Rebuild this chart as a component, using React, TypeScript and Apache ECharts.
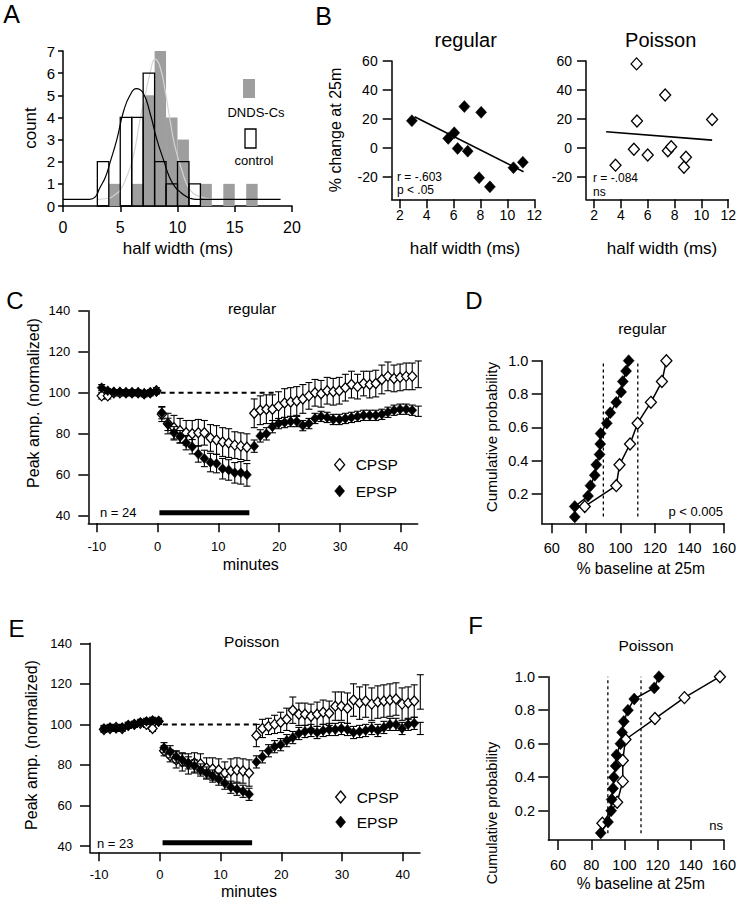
import React, { useEffect, useRef } from "react";
import * as echarts from "echarts";

const FONT = "'Liberation Sans', Arial, Helvetica, sans-serif";

// ---------- Panel A : half-width histograms ----------
const binWidth = 1;
const dndsBinLeft = [4, 6, 7, 8, 9, 10, 12, 14, 16];
const dndsCounts = [1, 1, 5, 7, 4, 3, 1, 1, 1];
const controlBinLeft = [3, 5, 6, 7, 8, 9, 10, 11];
const controlCounts = [2, 4, 4, 6, 2, 1, 2, 1];
const controlFitX = [0, 2.3, 2.8, 3.2, 3.7, 4.1, 4.7, 5.3, 5.85, 6.4, 7.0, 7.6, 8.2, 8.8, 9.3, 9.8, 10.2, 10.7, 11.1, 11.6, 19];
const controlFitY = [0.3, 0.3, 0.4, 0.8, 1.3, 1.95, 3.0, 4.3, 5.0, 5.3, 5.1, 4.2, 3.0, 2.05, 1.3, 0.85, 0.65, 0.45, 0.35, 0.3, 0.3];
const dndsFitX = [3, 4, 4.5, 5, 5.56, 6.14, 6.72, 7.16, 7.6, 8.04, 8.47, 8.91, 9.35, 9.78, 10.37, 11.1, 12, 13];
const dndsFitY = [0.3, 0.35, 0.5, 0.72, 1.32, 2.23, 3.88, 4.94, 6.0, 6.63, 6.29, 5.24, 3.88, 2.68, 1.63, 0.72, 0.42, 0.32];

// ---------- Panel B : % change at 25m vs half width ----------
const bRegX = [2.9, 5.6, 6.05, 6.3, 6.8, 7.05, 8.05, 7.9, 8.7, 10.45, 11.15];
const bRegY = [18.7, 6.5, 10.4, -0.5, 28.5, -2.3, 24.5, -20.7, -27, -13.8, -10];
const bRegFitX = [3.1, 11.2];
const bRegFitY = [21.5, -16.6];
const bPoiX = [3.6, 4.97, 5.17, 5.2, 6.0, 7.3, 7.5, 7.75, 8.85, 8.7, 10.8];
const bPoiY = [-12, -1, 58, 18.5, -5, 36.5, -2, 0.7, -6.5, -13.5, 19.6];
const bPoiFitX = [2.9, 10.8];
const bPoiFitY = [11.1, 5.3];

// ---------- Panels C & E : time courses ----------
const minutes = [
  -9.2, -8.2, -7.2, -6.2, -5.2, -4.2, -3.2, -2.2, -1.2, -0.2,
  0.7, 1.7, 2.7, 3.7, 4.7, 5.7, 6.7, 7.7, 8.7, 9.7, 10.7, 11.7, 12.7, 13.7, 14.7,
  15.9, 16.9, 17.9, 18.9, 19.9, 20.9, 21.9, 22.9, 23.9, 24.9, 25.9, 26.9, 27.9, 28.9,
  29.9, 30.9, 31.9, 32.9, 33.9, 34.9, 35.9, 36.9, 37.9, 38.9, 39.9, 40.9, 41.9, 42.9,
];
const cEpsp = [
  102.5, 101, 100.5, 100.5, 100, 100, 100, 99.5, 100, 100.5,
  90.3, 84.6, 80.5, 78.6, 75.7, 73.7, 70.2, 68, 66, 65.5, 63, 62.4, 61, 61, 60,
  74, 79, 80, 83.5, 85, 85.5, 86, 86, 84, 85, 87.5, 88.5, 88, 87, 87, 87.5, 88, 88.5, 89, 89, 89, 89.5, 90.5, 91.5, 92, 92, 91.5, 91,
];
const cEpspErr = [
  1.5, 1, 1, 1, 1, 1, 1, 1, 1, 1,
  3, 3, 3, 3, 3.5, 3.5, 4, 4, 4.5, 4.5, 5, 5, 5, 5.5, 5.5,
  3, 3, 3, 3, 2.5, 2.5, 2.5, 2.5, 2.5, 2.5, 2.5, 2.5, 2.5, 2.5, 2.5, 2.5, 2.5, 2.5, 2.5, 2.5, 2.5, 2.5, 2.5, 2.5, 2.5, 2.5, 2.5, 2.5,
];
const cCpsp = [
  98.5, 98.5, 100, 100, 100, 100, 100, 99.5, 100, 101,
  89.5, 85, 83, 81.5, 80.5, 80, 80.5, 80.5, 78, 77, 76, 75.5, 74.5, 74, 73.5,
  90, 91.5, 92, 92, 93.5, 95, 95.5, 96, 97, 98.5, 100, 99.5, 101, 100.5, 101, 102.5, 104, 103, 104.5, 104, 104.5, 106.5, 108, 107, 107.5, 108, 108, 109,
];
const cCpspErr = [
  1.5, 1.5, 1.5, 1.5, 1.5, 1.5, 1.5, 1.5, 1.5, 1.5,
  3.5, 5, 6, 6, 6, 6.5, 6.5, 6, 6.5, 7, 7, 7, 6.5, 6.5, 6.5,
  7, 7, 7, 7, 7, 7, 7, 7, 7, 6.5, 6.5, 6.5, 6.5, 6.5, 6.5, 6.5, 6.5, 6, 6, 6.5, 6.5, 7, 7, 6.5, 6.5, 6.5, 6.5, 6.5,
];
const eEpsp = [
  98, 98.5, 98, 98.5, 99.5, 100, 101, 101.5, 102, 101.5,
  88.5, 86.5, 84, 82.5, 81, 79.5, 77.5, 76, 74.5, 73, 71, 69, 68, 67, 65.5,
  81.5, 84, 87, 89, 90, 92, 93.5, 95.5, 96.5, 97, 96, 97, 97.5, 97.5, 98, 97.5, 96, 96.5, 97, 98, 97, 98.5, 100, 100, 98, 100, 100.5, 98,
];
const eEpspErr = [
  1.5, 1.5, 1.5, 1.5, 1.5, 1.5, 1.5, 1.5, 1.5, 1.5,
  2.5, 3, 3, 3, 3, 3, 3, 3, 3, 3, 3, 3, 3, 3, 3,
  3, 3, 3, 3, 3, 3, 3, 3, 3, 3, 3, 3, 3, 3, 3, 3, 3, 3, 3, 3, 3, 3, 3, 3, 3, 3, 3, 3,
];
const eCpsp = [
  97.5, 98, 98.5, 98, 99.5, 100, 100.5, 100, 98, 101.5,
  87, 84.5, 82.5, 81.5, 80.5, 81, 80.5, 78.5, 78, 77.5, 76, 77, 77.5, 77, 76,
  94.5, 98, 99, 100, 101, 102.5, 107, 105, 105, 104, 105, 106, 105.5, 109, 109, 108, 112, 110.5, 111.5, 110, 111, 111.5, 112, 112.5, 110, 110.5, 111.5, 116,
];
const eCpspErr = [
  1.5, 1.5, 1.5, 1.5, 1.5, 1.5, 1.5, 1.5, 1.5, 1.5,
  2.5, 3, 4, 4.5, 5, 5, 5, 5, 5.5, 5.5, 5.5, 6, 6, 6, 6.5,
  5.5, 4.5, 4, 4.5, 5, 5.5, 6.5, 5.5, 5.5, 6, 6, 6, 6, 7, 7, 7.5, 8, 8, 8, 8, 8, 8, 8, 8, 8, 8, 8, 8.5,
];
const baselineLevel = 100;
const cDashRange = [0.5, 19.5];
const eDashRange = [0.5, 16];
const stimLevel = 41.6;
const cStimRange = [0.3, 15.1];
const eStimRange = [0.45, 15.2];

// ---------- Panels D & F : cumulative probability ----------
const dEpspX = [73.4, 73.4, 81.1, 82.5, 85, 85.9, 87.8, 88.2, 88.4, 92, 94, 97.5, 100.3, 101.3, 103.2, 104.7];
const dEpspY = [0.0625, 0.125, 0.1875, 0.25, 0.3125, 0.375, 0.4375, 0.5, 0.5625, 0.625, 0.6875, 0.75, 0.8125, 0.875, 0.9375, 1];
const dCpspX = [79.2, 97.5, 99.4, 105.5, 109.9, 117.6, 124, 126.6];
const dCpspY = [0.125, 0.25, 0.375, 0.5, 0.625, 0.75, 0.875, 1];
const fEpspX = [85.7, 90.1, 92.0, 92.3, 93.1, 93.6, 94.7, 95.2, 97.6, 98.6, 99.6, 102.1, 105.9, 118, 120.8];
const fEpspY = [0.067, 0.133, 0.2, 0.267, 0.333, 0.4, 0.467, 0.533, 0.6, 0.667, 0.733, 0.8, 0.867, 0.933, 1];
const fCpspX = [86.7, 95.6, 99, 99, 100.6, 118.4, 136.2, 157.6];
const fCpspY = [0.125, 0.25, 0.375, 0.5, 0.625, 0.75, 0.875, 1];
const refLinesX = [90, 110];
const refLineYRange = [0.065, 1];

// ---------- tick labels ----------
const aXTicks = [0, 5, 10, 15, 20];
const aYTicks = [0, 1, 2, 3, 4, 5, 6, 7];
const bXTicks = [2, 4, 6, 8, 10, 12];
const bYTicks = [-20, 0, 20, 40, 60];
const ceXTicks = [-10, 0, 10, 20, 30, 40];
const ceYTicks = [40, 60, 80, 100, 120, 140];
const dfXTicks = [60, 80, 100, 120, 140, 160];
const dfYTicks = [0.2, 0.4, 0.6, 0.8, 1.0];

const zip = (xs: number[], ys: number[]) => xs.map((x, i) => [x, ys[i]]);

function axis(gridIndex: number, min: number, max: number, fontSize: number, tickLen: number, margin: number, ticks: number[], fmt?: (v: number) => string) {
  return {
    type: "value",
    gridIndex,
    min,
    max,
    axisLine: { show: true, onZero: false, lineStyle: { color: "#000", width: 1.5 } },
    axisTick: { show: true, length: tickLen, customValues: ticks, lineStyle: { color: "#000", width: 1.5 } },
    axisLabel: { show: true, customValues: ticks, color: "#000", fontSize, fontFamily: FONT, margin, formatter: fmt },
    splitLine: { show: false },
  };
}

function histSeries(name: string, xi: number, lefts: number[], counts: number[], fill: string, stroke: string, lw: number, z: number) {
  return {
    type: "custom",
    name,
    xAxisIndex: xi,
    yAxisIndex: xi,
    silent: true,
    z,
    encode: { x: [0, 1], y: 2 },
    data: lefts.map((l, i) => [l, l + binWidth, counts[i]]),
    renderItem: (_p: any, api: any) => {
      const p0 = api.coord([api.value(0), 0]);
      const p1 = api.coord([api.value(1), api.value(2)]);
      return {
        type: "rect",
        shape: { x: p0[0], y: p1[1], width: p1[0] - p0[0], height: p0[1] - p1[1] },
        style: { fill, stroke, lineWidth: lw },
      };
    },
  };
}

function errSeries(name: string, idx: number, times: number[], vals: number[], errs: number[], cap: number, z: number) {
  return {
    type: "custom",
    name,
    xAxisIndex: idx,
    yAxisIndex: idx,
    silent: true,
    z,
    encode: { x: 0, y: 1 },
    data: times.map((t, i) => [t, vals[i], errs[i]]),
    renderItem: (_p: any, api: any) => {
      const x = api.value(0), y = api.value(1), e = api.value(2);
      const a = api.coord([x, y + e]);
      const b = api.coord([x, y - e]);
      const st = { stroke: "#000", lineWidth: 1.1 };
      return {
        type: "group",
        children: [
          { type: "line", shape: { x1: a[0], y1: a[1], x2: b[0], y2: b[1] }, style: st },
          { type: "line", shape: { x1: a[0] - cap, y1: a[1], x2: a[0] + cap, y2: a[1] }, style: st },
          { type: "line", shape: { x1: b[0] - cap, y1: b[1], x2: b[0] + cap, y2: b[1] }, style: st },
        ],
      };
    },
  };
}

const openStyle = { color: "#fff", borderColor: "#000", borderWidth: 1.3, opacity: 1 };
const fillStyle = { color: "#000", borderColor: "#000", borderWidth: 0.5, opacity: 1 };

function scatter(name: string, idx: number, data: number[][], style: any, size: number[], z: number) {
  return { type: "scatter", name, xAxisIndex: idx, yAxisIndex: idx, symbol: "diamond", symbolSize: size, data, itemStyle: style, z, silent: true };
}

function plainLine(name: string, idx: number, data: number[][], lineStyle: any, z: number, smooth = false) {
  return { type: "line", name, xAxisIndex: idx, yAxisIndex: idx, data, showSymbol: false, symbol: "none", smooth, lineStyle, z, silent: true };
}

function cumLine(name: string, idx: number, data: number[][], style: any, z: number) {
  return {
    type: "line", name, xAxisIndex: idx, yAxisIndex: idx, data, symbol: "diamond", symbolSize: [11, 12], showSymbol: true,
    itemStyle: style, lineStyle: { color: "#000", width: 1.5 }, z, silent: true,
  };
}

function txt(text: string, x: number, y: number, size: number, align = "center", vAlign = "middle", rotation = 0) {
  return {
    type: "text", x, y, rotation, silent: true,
    style: { text, font: `${size}px ${FONT}`, fill: "#000", textAlign: align, textVerticalAlign: vAlign, align, verticalAlign: vAlign },
  };
}

function buildOption() {
  const grids = [
    { left: 63, top: 51, width: 229, height: 155 }, // A
    { left: 391.7, top: 61, width: 142.6, height: 138.3 }, // B regular
    { left: 586, top: 61, width: 142.3, height: 138.3 }, // B Poisson
    { left: 88.3, top: 310.7, width: 329.4, height: 212.6 }, // C
    { left: 541.7, top: 360.7, width: 183.3, height: 162.6 }, // D
    { left: 90, top: 643.3, width: 330, height: 209 }, // E
    { left: 548.3, top: 676.7, width: 178.4, height: 163.3 }, // F
  ];
  const f1 = (v: number) => v.toFixed(1);
  const xAxis = [
    axis(0, 0, 20, 16, 6, 13, aXTicks),
    axis(1, 1.4, 12, 14, 9, 9, bXTicks),
    axis(2, 1.4, 12, 14, 9, 9, bXTicks),
    axis(3, -11.4, 42.8, 13, 9, 17, ceXTicks),
    axis(4, 54.2, 160, 14.5, 10, 17, dfXTicks),
    axis(5, -11.5, 42.85, 13, 9, 16, ceXTicks),
    axis(6, 54.07, 160, 14.5, 10, 17.5, dfXTicks),
  ];
  const yAxis = [
    axis(0, 0, 7, 15, 5, 8, aYTicks),
    axis(1, -35.6, 60, 14, 9, 14, bYTicks),
    axis(2, -35.6, 60, 14, 9, 14, bYTicks),
    axis(3, 36.4, 140, 13, 10, 18, ceYTicks),
    axis(4, 0.024, 1.0, 14.5, 10, 13.4, dfYTicks, f1),
    axis(5, 36.9, 140, 13, 10, 18, ceYTicks),
    axis(6, 0.025, 1.0, 14.5, 10, 13.3, dfYTicks, f1),
  ];

  const series: any[] = [
    // A
    histSeries("DNDS-Cs", 0, dndsBinLeft, dndsCounts, "#9e9e9e", "none", 0, 2),
    plainLine("DNDS fit", 0, zip(dndsFitX, dndsFitY), { color: "#d4d4d4", width: 1.2 }, 3, true),
    histSeries("control", 0, controlBinLeft, controlCounts, "none", "#000", 1.3, 4),
    plainLine("control fit", 0, zip(controlFitX, controlFitY), { color: "#000", width: 1.2 }, 5, true),
    // B
    plainLine("reg fit", 1, zip(bRegFitX, bRegFitY), { color: "#000", width: 1.6 }, 3),
    scatter("reg pts", 1, zip(bRegX, bRegY), fillStyle, [11, 12], 4),
    plainLine("poi fit", 2, zip(bPoiFitX, bPoiFitY), { color: "#000", width: 1.6 }, 3),
    scatter("poi pts", 2, zip(bPoiX, bPoiY), openStyle, [11, 12], 4),
    // C
    plainLine("C baseline", 3, [[cDashRange[0], baselineLevel], [cDashRange[1], baselineLevel]], { color: "#000", width: 2, type: [5, 4] }, 2),
    plainLine("C stim", 3, [[cStimRange[0], stimLevel], [cStimRange[1], stimLevel]], { color: "#000", width: 5 }, 2),
    errSeries("C CPSP err", 3, minutes, cCpsp, cCpspErr, 3.5, 3),
    scatter("CPSP", 3, zip(minutes, cCpsp), openStyle, [9, 10], 4),
    errSeries("C EPSP err", 3, minutes, cEpsp, cEpspErr, 3.5, 5),
    scatter("EPSP", 3, zip(minutes, cEpsp), fillStyle, [9, 10], 6),
    // D
    plainLine("D ref1", 4, [[refLinesX[0], refLineYRange[0]], [refLinesX[0], refLineYRange[1]]], { color: "#000", width: 1.3, type: [3, 3] }, 2),
    plainLine("D ref2", 4, [[refLinesX[1], refLineYRange[0]], [refLinesX[1], refLineYRange[1]]], { color: "#000", width: 1.3, type: [3, 3] }, 2),
    cumLine("D CPSP", 4, zip(dCpspX, dCpspY), openStyle, 3),
    cumLine("D EPSP", 4, zip(dEpspX, dEpspY), fillStyle, 4),
    // E
    plainLine("E baseline", 5, [[eDashRange[0], baselineLevel], [eDashRange[1], baselineLevel]], { color: "#000", width: 2, type: [5, 4] }, 2),
    plainLine("E stim", 5, [[eStimRange[0], stimLevel], [eStimRange[1], stimLevel]], { color: "#000", width: 5 }, 2),
    errSeries("E CPSP err", 5, minutes, eCpsp, eCpspErr, 3.5, 3),
    scatter("CPSP", 5, zip(minutes, eCpsp), openStyle, [9, 10], 4),
    errSeries("E EPSP err", 5, minutes, eEpsp, eEpspErr, 3.5, 5),
    scatter("EPSP", 5, zip(minutes, eEpsp), fillStyle, [9, 10], 6),
    // F
    plainLine("F ref1", 6, [[refLinesX[0], refLineYRange[0]], [refLinesX[0], refLineYRange[1]]], { color: "#000", width: 1.3, type: [3, 3] }, 2),
    plainLine("F ref2", 6, [[refLinesX[1], refLineYRange[0]], [refLinesX[1], refLineYRange[1]]], { color: "#000", width: 1.3, type: [3, 3] }, 2),
    cumLine("F CPSP", 6, zip(fCpspX, fCpspY), openStyle, 3),
    cumLine("F EPSP", 6, zip(fEpspX, fEpspY), fillStyle, 4),
  ];

  const legendData = [
    { name: "CPSP", icon: "diamond", itemStyle: { color: "#fff", borderColor: "#000", borderWidth: 1.3 } },
    { name: "EPSP", icon: "diamond", itemStyle: { color: "#000", borderColor: "#000", borderWidth: 0.5 } },
  ];
  const legendCommon = {
    orient: "vertical",
    itemWidth: 10,
    itemHeight: 12,
    selectedMode: false,
    padding: 0,
    data: legendData,
    textStyle: { fontSize: 15.5, fontFamily: FONT, color: "#000", lineHeight: 12, padding: [0, 0, 0, 6] },
  };
  const legend = [
    { ...legendCommon, left: 334, top: 456.7, itemGap: 10.3 },
    { ...legendCommon, left: 335, top: 789, itemGap: 9 },
  ];

  const graphic = [
    // A
    txt("A", 11.5, 14, 25),
    txt("count", 30, 128, 17, "center", "middle", Math.PI / 2),
    txt("half width (ms)", 178, 248, 17),
    { type: "rect", silent: true, shape: { x: 243, y: 79, width: 12, height: 19 }, style: { fill: "#9e9e9e", stroke: "none" } },
    txt("DNDS-Cs", 256, 112, 13),
    { type: "rect", silent: true, shape: { x: 245, y: 129, width: 11, height: 19 }, style: { fill: "none", stroke: "#000", lineWidth: 1.3 } },
    txt("control", 254, 160, 13),
    // B
    txt("B", 323.5, 16, 25),
    txt("regular", 465.7, 40, 20),
    txt("Poisson", 660.7, 40, 20),
    txt("% change at 25m", 335, 130, 16, "center", "middle", Math.PI / 2),
    txt("r = -.603", 397, 176.5, 12, "left"),
    txt("p < .05", 397, 189.5, 12, "left"),
    txt("r = -.084", 593, 178, 12, "left"),
    txt("ns", 593, 191.5, 12, "left"),
    txt("half width (ms)", 465, 248, 17),
    txt("half width (ms)", 662, 248, 17),
    // C
    txt("C", 15, 300.5, 24),
    txt("regular", 252, 308, 15.5),
    txt("Peak amp. (normalized)", 33, 403, 16, "center", "middle", Math.PI / 2),
    txt("n = 24", 100, 512.7, 13, "left"),
    txt("minutes", 250.8, 564, 16),
    // D
    txt("D", 474, 300, 24),
    txt("regular", 642.3, 328, 15.5),
    txt("Cumulative probability", 491.7, 437, 15.3, "center", "middle", Math.PI / 2),
    txt("p < 0.005", 723, 511.7, 13, "right"),
    txt("% baseline at 25m", 640.8, 568, 15.6),
    // E
    txt("E", 16.5, 628.5, 24),
    txt("Poisson", 251.7, 641.7, 15.5),
    txt("Peak amp. (normalized)", 31.7, 745, 16, "center", "middle", Math.PI / 2),
    txt("n = 23", 97, 843.3, 13, "left"),
    txt("minutes", 249, 891.7, 16),
    // F
    txt("F", 475.5, 625, 24),
    txt("Poisson", 646, 645, 15.5),
    txt("Cumulative probability", 491.7, 813, 14.5, "center", "middle", Math.PI / 2),
    txt("ns", 723, 825, 13, "right"),
    txt("% baseline at 25m", 640.8, 883, 15.6),
  ];

  return {
    animation: false,
    backgroundColor: "#fff",
    textStyle: { fontFamily: FONT },
    grid: grids,
    xAxis,
    yAxis,
    legend,
    series,
    graphic,
  };
}

export default function App() {
  const ref = useRef<HTMLDivElement>(null);
  useEffect(() => {
    document.body.style.margin = "0";
    const chart = echarts.init(ref.current as HTMLDivElement, null, { renderer: "svg" });
    chart.setOption(buildOption() as any);
    return () => chart.dispose();
  }, []);
  return <div ref={ref} style={{ width: 739, height: 899, background: "#fff" }} />;
}
